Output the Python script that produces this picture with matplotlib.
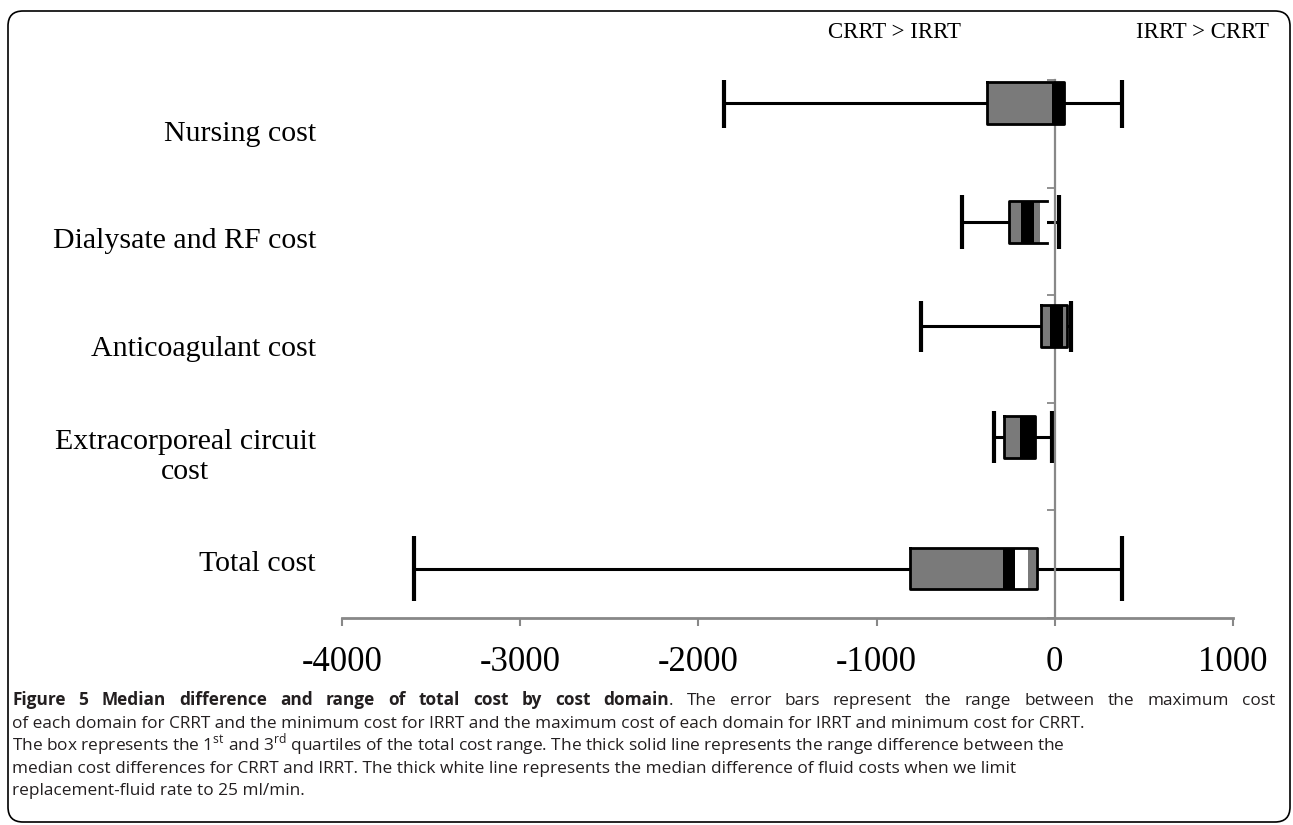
import matplotlib
matplotlib.use("Agg")
import matplotlib.pyplot as plt
from matplotlib.patches import FancyBboxPatch

# cost domains, top to bottom
categories = ["Nursing cost", "Dialysate and RF cost", "Anticoagulant cost",
              "Extracorporeal circuit\ncost", "Total cost"]
# error bars: full range of the difference
range_min = [-1857, -520, -750, -342, -3595]
range_max = [375, 22, 90, -17, 375]
# box: 1st and 3rd quartiles
q1 = [-382, -258, -79, -286, -814]
q3 = [50, -45, 67, -112, -101]
# thick solid line: range between median differences
median_lo = [-17, -191, -28, -196, -292]
median_hi = [50, -118, 45, -112, -224]
# thick white line: median fluid cost difference at 25 ml/min
fluid_lo = [None, -84, None, None, -224]
fluid_hi = [None, -45, None, None, -152]

xticks = [-4000, -3000, -2000, -1000, 0, 1000]

# layout: vertical placement of each row inside its band
row_y = [0.21, 1.32, 2.29, 3.32, 4.54]
cap_h = [0.24, 0.25, 0.24, 0.24, 0.30]
box_h = 0.39

SERIF = "Liberation Serif"
GRAY = "#7a7a7a"
AXIS = "#888888"

fig = plt.figure(figsize=(12.93, 8.25), dpi=100)
ax = fig.add_axes([342 / 1293, 207 / 825, 891 / 1293, 538 / 825])

for i in range(len(categories)):
    y = row_y[i]
    ax.plot([range_min[i], range_max[i]], [y, y], color="black", lw=2.2,
            solid_capstyle="butt", zorder=2)
    for xc in (range_min[i], range_max[i]):
        ax.plot([xc, xc], [y - cap_h[i], y + cap_h[i]], color="black", lw=3,
                solid_capstyle="butt", zorder=2)
    ax.barh(y, q3[i] - q1[i], left=q1[i], height=box_h, color=GRAY,
            edgecolor="none", zorder=3)
    ax.barh(y, median_hi[i] - median_lo[i], left=median_lo[i], height=box_h,
            color="black", edgecolor="none", zorder=4)
    if fluid_lo[i] is not None:
        ax.barh(y, fluid_hi[i] - fluid_lo[i], left=fluid_lo[i], height=box_h,
                color="white", edgecolor="none", zorder=4)
    # box outline; open on the right when the white line reaches q3
    top, bot = y - box_h / 2, y + box_h / 2
    if fluid_hi[i] == q3[i]:
        ox, oy = [q3[i], q1[i], q1[i], q3[i]], [top, top, bot, bot]
    else:
        ox = [q1[i], q3[i], q3[i], q1[i], q1[i]]
        oy = [top, top, bot, bot, top]
    ax.plot(ox, oy, color="black", lw=2, zorder=5)
    ax.annotate(categories[i], xy=(0, i + 0.5),
                xycoords=("axes fraction", "data"), xytext=(-26, 0),
                textcoords="offset pixels", ha="right", va="center",
                multialignment="center", family=SERIF, fontsize=21.5)

ax.set_xlim(-4000, 1000)
ax.set_ylim(5, 0)
ax.set_xticks(xticks)
ax.set_xticklabels([str(t) for t in xticks], family=SERIF, fontsize=25)
ax.set_yticks(range(6))
ax.set_yticklabels([])
ax.tick_params(axis="x", direction="out", length=6, width=1.5, color=AXIS, pad=14)
ax.tick_params(axis="y", direction="out", length=6, width=1.3, color=AXIS)
for side in ("top", "right"):
    ax.spines[side].set_visible(False)
ax.spines["left"].set_position(("data", 0))
ax.spines["left"].set_color(AXIS)
ax.spines["left"].set_linewidth(1.6)
ax.spines["bottom"].set_color(AXIS)
ax.spines["bottom"].set_linewidth(2)

fig.text(894 / 1293, 1 - 38 / 825, "CRRT > IRRT", family=SERIF,
         fontsize=16.5, ha="center", va="baseline")
fig.text(1203 / 1293, 1 - 38 / 825, "IRRT > CRRT", family=SERIF,
         fontsize=16.5, ha="center", va="baseline")

# caption
plt.rcParams["mathtext.fontset"] = "custom"
plt.rcParams["mathtext.rm"] = "Open Sans"
CAP = "Open Sans"
CAP_COLOR = "#231f20"
cap_size = 12.45
x0 = 12 / 1293
x1 = 1275 / 1293
baselines = [705, 728, 750, 773, 795]
bold_part = "Figure 5 Median difference and range of total cost by cost domain"
first_rest = ". The error bars represent the range between the maximum cost"
lines = [
    "of each domain for CRRT and the minimum cost for IRRT and the maximum cost "
    "of each domain for IRRT and minimum cost for CRRT.",
    "The box represents the 1$^{\\mathrm{st}}$ and 3$^{\\mathrm{rd}}$ quartiles of the "
    "total cost range. The thick solid line represents the range difference between the",
    "median cost differences for CRRT and IRRT. The thick white line represents the "
    "median difference of fluid costs when we limit",
    "replacement-fluid rate to 25 ml/min.",
]

# first line is justified to the full caption width
rest_words = first_rest.split(" ")
pieces = [(w, "bold") for w in bold_part.split(" ")[:-1]]
pieces.append((bold_part.split(" ")[-1], "bold"))
pieces.append((rest_words[0], "normal"))          # "." joins "domain"
pieces += [(w, "normal") for w in rest_words[1:]]
joined = [False] * len(pieces)
joined[len(bold_part.split(" "))] = True

yb0 = 1 - baselines[0] / 825
arts = [fig.text(0, yb0, w, family=CAP, fontsize=cap_size, weight=wt,
                 color=CAP_COLOR, va="baseline") for w, wt in pieces]
fig.canvas.draw()
r = fig.canvas.get_renderer()
widths = [a.get_window_extent(r).width / fig.bbox.width for a in arts]
n_gaps = sum(1 for j in range(1, len(pieces)) if not joined[j])
gap = (x1 - x0 - sum(widths)) / n_gaps
xp = x0
for j, a in enumerate(arts):
    if j > 0 and not joined[j]:
        xp += gap
    a.set_x(xp)
    xp += widths[j]

for yb, line in zip(baselines[1:], lines):
    fig.text(x0, 1 - yb / 825, line, family=CAP, fontsize=cap_size,
             color=CAP_COLOR, va="baseline")

frame = FancyBboxPatch((0.08, 0.03), 12.82, 8.11,
                       boxstyle="round,pad=0,rounding_size=0.15",
                       transform=fig.dpi_scale_trans, fill=False,
                       edgecolor="black", lw=1.2)
fig.add_artist(frame)

fig.savefig("out.png", dpi=100)
